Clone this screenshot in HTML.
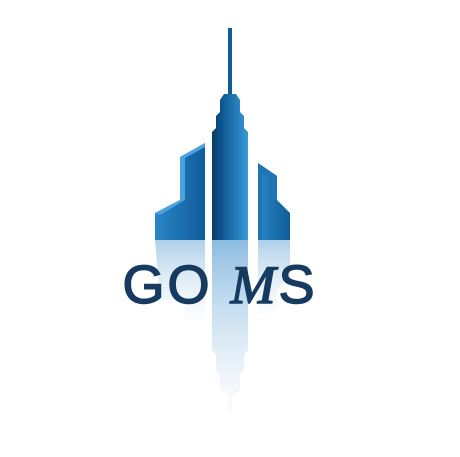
<!DOCTYPE html>
<html><head><meta charset="utf-8"><style>
html,body{margin:0;padding:0;background:#fff;width:460px;height:457px;overflow:hidden}
</style></head><body>
<svg width="460" height="457" viewBox="0 0 460 457">
<defs>
<linearGradient id="tw" x1="0" x2="1" y1="0" y2="0">
<stop offset="0" stop-color="#0b3a66"/><stop offset="0.3" stop-color="#0d5a95"/><stop offset="1" stop-color="#3a9ad8"/></linearGradient>
<linearGradient id="sd" x1="0" x2="1"><stop offset="0" stop-color="#2b86c6"/><stop offset="1" stop-color="#0f5c99"/></linearGradient>
<linearGradient id="rf" x1="0" x2="0" y1="0" y2="1">
<stop offset="0" stop-color="#7fb4dc" stop-opacity="0.9"/><stop offset="1" stop-color="#cfe3f3" stop-opacity="0.1"/></linearGradient>
</defs>
<g>
<polygon points="155,213 180,200 180,157 205,143 205,240 155,240" fill="url(#sd)"/>
<polygon points="180,157 205,143 205,147 185,158 185,200 160,215 155,213 180,200" fill="#4aa3e0"/>
</g>
<g>
<rect x="228" y="28" width="4" height="66" fill="#0f5c99"/>
<polygon points="224,94 236,94 240,100 240,112 244,116 244,128 248,132 248,240 212,240 212,132 216,128 216,116 220,112 220,100" fill="url(#tw)"/>
</g>
<g>
<polygon points="258,163 277,176 277,200 290,213 290,240 258,240" fill="url(#sd)"/>
<polygon points="258,163 277,176 277,200 272,200 272,179 262,173 262,240 258,240" fill="#1f74b3"/>
</g>
<g>
<polygon points="155,240 205,240 205,320 185,320 185,300 160,300" fill="url(#rf)" opacity="0.7"/>
<polygon points="212,240 248,240 248,350 244,355 244,370 240,375 240,390 232,395 232,412 228,412 228,395 220,390 220,375 216,370 216,355 212,350" fill="url(#rf)"/>
<polygon points="258,240 290,240 290,275 277,290 277,310 262,315 258,315" fill="url(#rf)" opacity="0.7"/>
</g>
<text x="220" y="303" text-anchor="middle" font-family="Liberation Sans, sans-serif" font-size="54" fill="#163a60" stroke="#163a60" stroke-width="1.5" letter-spacing="3">GO <tspan font-family="Liberation Serif, serif" font-style="italic">M</tspan>S</text>
</svg>
</body></html>
